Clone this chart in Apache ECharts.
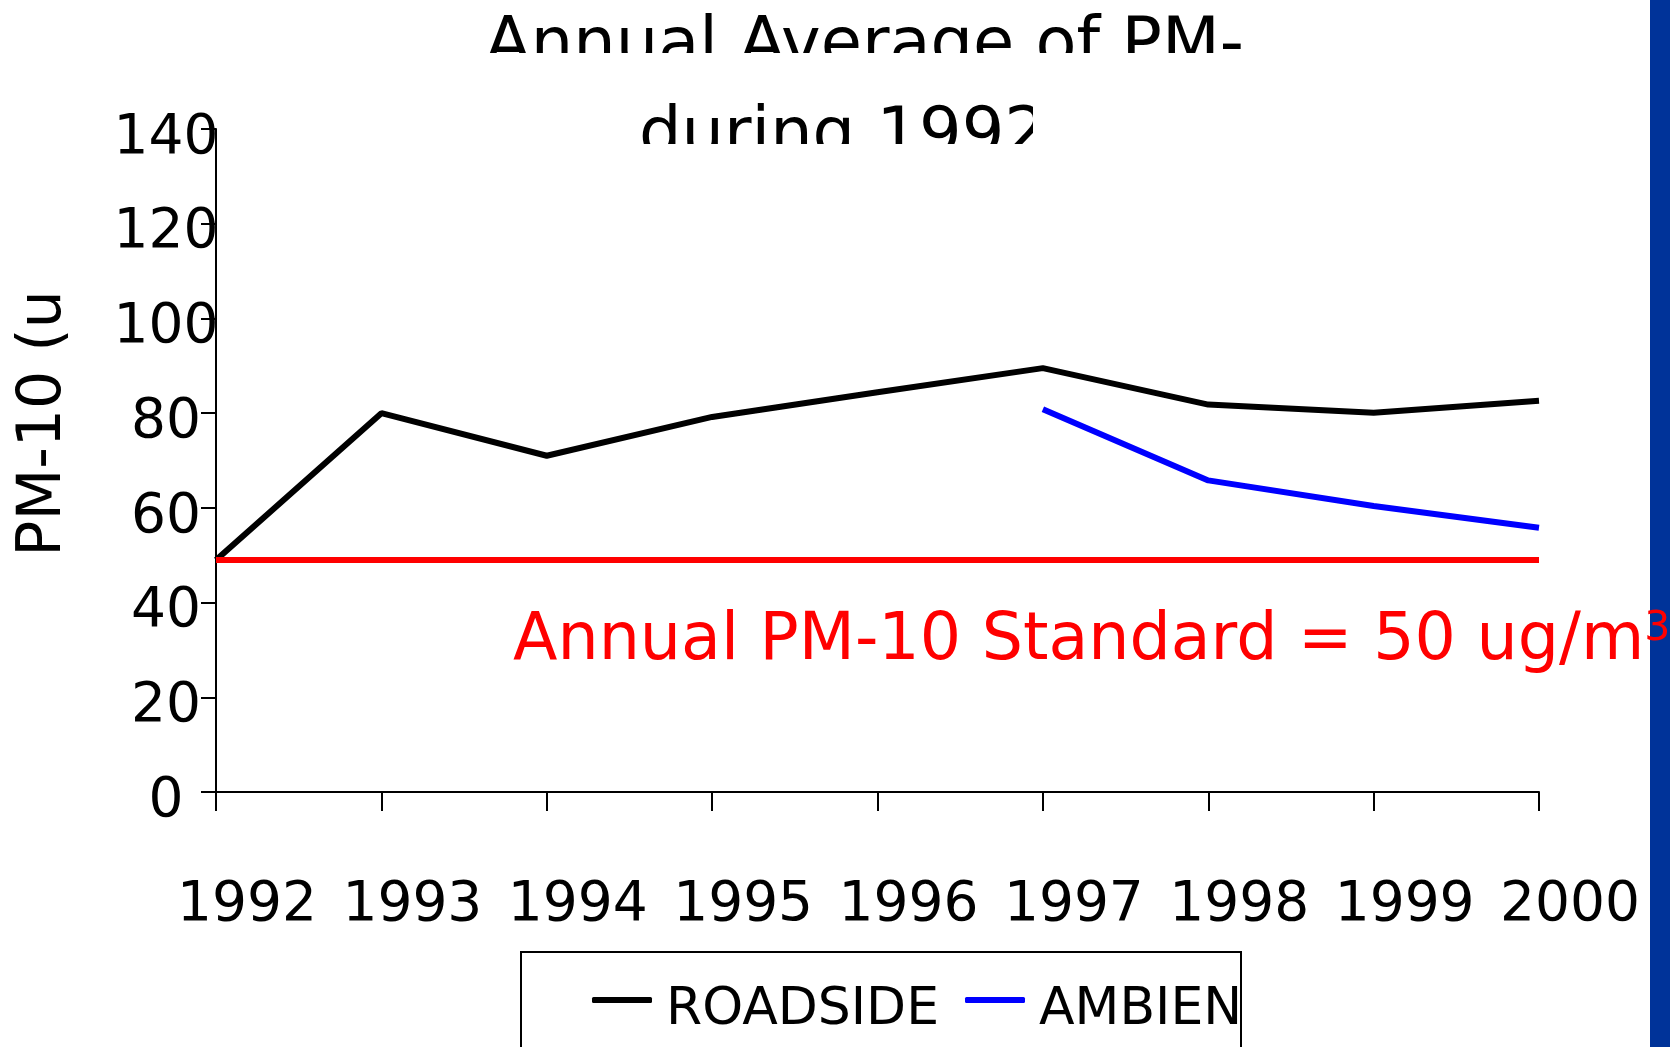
<!DOCTYPE html>
<html style="height: 100%">
<head>
    <meta charset="UTF-8">
    <title>PM-10</title>
    <script type="text/javascript" src="https://cdn.jsdelivr.net/npm/echarts@6/dist/echarts.min.js"></script>
</head>
<body style="height: 100%; margin: 0; background: #fff">
    <div id="container" style="width: 1670px; height: 1047px"></div>
<script>
    // values
    var years = ['1992', '1993', '1994', '1995', '1996', '1997', '1998', '1999', '2000'];
    var roadside = [49, 80, 71, 79.2, 84.4, 89.5, 81.8, 80.1, 82.6];
    var ambient = ['-', '-', '-', '-', '-', 80.8, 65.8, 60.4, 55.8];
    var standardLine = 49;
    var seriesNames = ['ROADSIDE', 'AMBIEN'];
    var yTicks = {min: 0, max: 140, interval: 20};

    var FONT = 'DejaVu Sans';
    var dom = document.getElementById('container');
    var myChart = echarts.init(dom);

    var option = {
        animation: false,
        backgroundColor: '#fff',
        grid: {
            left: 216,
            right: 131,
            top: 129,
            bottom: 255,
            containLabel: false,
            outerBoundsMode: 'none'
        },
        legend: {
            left: 587,
            top: 979,
            icon: 'roundRect',
            itemWidth: 60,
            itemHeight: 6,
            itemGap: 26,
            data: seriesNames,
            formatter: '{t|{name}}',
            textStyle: {
                fontFamily: FONT,
                fontSize: 52,
                color: '#000',
                rich: {
                    t: {fontFamily: FONT, fontSize: 52, color: '#000', padding: [20, 0, 0, 9]}
                }
            }
        },
        xAxis: {
            type: 'category',
            data: years,
            boundaryGap: false,
            axisLine: {show: true, lineStyle: {color: '#000', width: 2}},
            axisTick: {show: true, length: 19, interval: 0, lineStyle: {color: '#000', width: 2}},
            axisLabel: {
                interval: 0,
                margin: 86,
                fontFamily: FONT,
                fontSize: 55,
                color: '#000',
                padding: [0, 0, 0, 62]
            },
            splitLine: {show: false}
        },
        yAxis: {
            type: 'value',
            min: yTicks.min,
            max: yTicks.max,
            interval: yTicks.interval,
            name: 'PM-10 (u',
            nameLocation: 'middle',
            nameRotate: 90,
            nameGap: 142,
            nameTextStyle: {
                fontFamily: FONT,
                fontSize: 60,
                color: '#000',
                padding: [0, 0, 0, 74]
            },
            axisLine: {show: true, lineStyle: {color: '#000', width: 2}},
            axisTick: {show: true, length: 15, lineStyle: {color: '#000', width: 2}},
            axisLabel: {
                margin: 50,
                align: 'center',
                formatter: '{v|{value}}',
                fontFamily: FONT,
                fontSize: 55,
                color: '#000',
                rich: {
                    v: {fontFamily: FONT, fontSize: 55, color: '#000', padding: [19, 0, 0, 0]}
                }
            },
            splitLine: {show: false}
        },
        series: [{
            name: seriesNames[0],
            type: 'line',
            data: roadside,
            symbol: 'none',
            color: '#000',
            lineStyle: {color: '#000', width: 6},
            markLine: {
                silent: true,
                symbol: 'none',
                label: {show: false},
                lineStyle: {color: '#ff0000', width: 6, type: 'solid'},
                data: [{yAxis: standardLine}]
            }
        }, {
            name: seriesNames[1],
            type: 'line',
            data: ambient,
            symbol: 'none',
            color: '#0000ff',
            lineStyle: {color: '#0000ff', width: 6}
        }],
        graphic: [
            // blue band at the right edge
            {type: 'rect', z: 1, shape: {x: 1650, y: 0, width: 20, height: 1047}, style: {fill: '#003399'}},
            // title, cut off as in the reference
            {type: 'text', z: 10, left: 485, top: 14, style: {text: 'Annual Average of PM-', font: '67px "DejaVu Sans"', fill: '#000'}},
            {type: 'text', z: 10, left: 639, top: 104, style: {text: 'during 1992', font: '67px "DejaVu Sans"', fill: '#000'}},
            {type: 'rect', z: 11, shape: {x: 470, y: 53, width: 820, height: 40}, style: {fill: '#fff'}},
            {type: 'rect', z: 11, shape: {x: 1033, y: 90, width: 200, height: 56}, style: {fill: '#fff'}},
            {type: 'rect', z: 11, shape: {x: 600, y: 144, width: 640, height: 30}, style: {fill: '#fff'}},
            // annotation of the standard
            {type: 'text', z: 12, left: 513, top: 609, style: {
                rich: {
                    b: {font: '65px "DejaVu Sans"', fill: '#ff0000'},
                    sup: {font: '41px "DejaVu Sans"', fill: '#ff0000', verticalAlign: 'top', padding: [0, 0, 26, 0]}
                },
                text: '{b|Annual PM-10 Standard = 50 ug/m}{sup|3}'
            }},
            // legend frame
            {type: 'rect', z: 5, shape: {x: 521, y: 952, width: 720, height: 130}, style: {fill: 'none', stroke: '#000', lineWidth: 2}}
        ]
    };
    myChart.setOption(option);
</script>
</body>
</html>
